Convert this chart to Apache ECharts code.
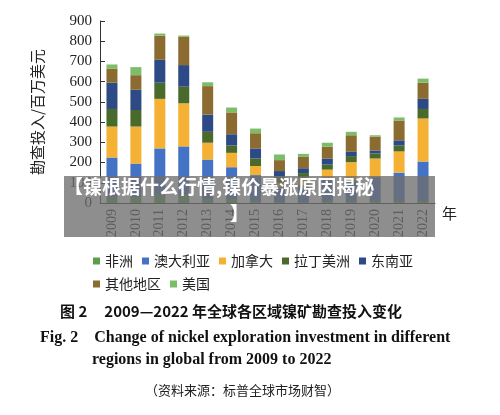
<!DOCTYPE html><html><head><meta charset="utf-8"><script src="https://cdn.jsdelivr.net/npm/echarts@6/dist/echarts.min.js"></script>
<style>body{margin:0;background:#fff}#c{width:500px;height:415px}</style></head><body><div id="c"></div><script>
const years=['2009','2010','2011','2012','2013','2014','2015','2016','2017','2018','2019','2020','2021','2022'];
const africa=[30,30,40,40,20,20,10,5,5,10,10,10,10,10];
const australia=[195,165,230,240,195,157,128,75,85,110,105,118,140,195];
const canada=[153,183,245,213,83,71,45,20,35,45,87,92,105,213];
const latam=[87,82,80,82,54,37,37,30,23,25,30,25,30,47];
const seAsia=[130,100,113,107,85,55,50,28,24,30,21,15,25,50];
const other=[70,72,120,140,141,108,75,54,56,58,82,68,98,80];
const usa=[20,40,10,6,19,24,23,28,15,20,17,7,15,20];
const names=['非洲','澳大利亚','加拿大','拉丁美洲','东南亚','其他地区','美国'];
const colors=['#5e9e4a','#4472c4','#f4b133','#4a6a2c','#2d4986','#8c6b30','#7dbd69'];
const data=[africa,australia,canada,latam,seAsia,other,usa];
const serif='"Liberation Serif","DejaVu Serif",serif';
const ch=echarts.init(document.getElementById('c'));
ch.setOption({
animation:false,
grid:{left:100,right:65,top:21,bottom:212},
legend:{left:88,top:249,width:340,itemWidth:7,itemHeight:7,itemGap:9,icon:'rect',
 textStyle:{fontSize:14,color:'#222',fontFamily:'"Noto Sans CJK SC"'},data:names},
xAxis:{type:'category',data:years,axisTick:{show:false},
 axisLine:{lineStyle:{color:'#333'}},
 axisLabel:{rotate:90,fontSize:14,color:'#222',fontFamily:serif,margin:6}},
yAxis:{type:'value',min:0,max:900,interval:100,splitLine:{show:false},
 axisLine:{show:true,lineStyle:{color:'#333'}},axisTick:{show:true,inside:true,lineStyle:{color:'#333'}},
 axisLabel:{fontSize:15,color:'#222',fontFamily:serif,margin:8},
 name:'勘查投入/百万美元',nameLocation:'middle',nameGap:55,nameRotate:90,
 nameTextStyle:{fontSize:15,color:'#222',fontFamily:'"Noto Sans CJK SC"'}},
series:names.map((n,i)=>({name:n,type:'bar',stack:'a',data:data[i],barWidth:11,itemStyle:{color:colors[i]}})),
graphic:[
 {type:'text',left:442,top:206,z:100,style:{text:'年',fontSize:15,fill:'#222',fontFamily:'"Noto Sans CJK SC"'}},
 {type:'rect',z:100,shape:{x:64,y:176,width:371,height:61},style:{fill:'rgba(110,110,110,0.78)'}},
 {type:'text',z:101,left:64,top:177,style:{text:'【镍根据什么行情,镍价暴涨原因揭秘',fontSize:19,fontWeight:'bold',fill:'#fff',fontFamily:'"Noto Sans CJK SC"'}},
 {type:'text',z:101,left:230,top:204,style:{text:'】',fontSize:19,fontWeight:'bold',fill:'#fff',fontFamily:'"Noto Sans CJK SC"'}},
 {type:'text',left:60,top:304,style:{text:'图 2     2009—2022 年全球各区域镍矿勘查投入变化',fontSize:15,fontWeight:'bold',fill:'#111',fontFamily:'"Noto Sans CJK SC"'}},
 {type:'text',left:40,top:330,style:{text:'Fig. 2    Change of nickel exploration investment in different',fontSize:16,fontWeight:'bold',fill:'#111',fontFamily:serif}},
 {type:'text',left:92,top:352,style:{text:'regions in global from 2009 to 2022',fontSize:16,fontWeight:'bold',fill:'#111',fontFamily:serif}},
 {type:'text',left:145,top:384,style:{text:'（资料来源：标普全球市场财智）',fontSize:13,fill:'#222',fontFamily:'"Noto Sans CJK SC"'}}
]});
</script></body></html>
